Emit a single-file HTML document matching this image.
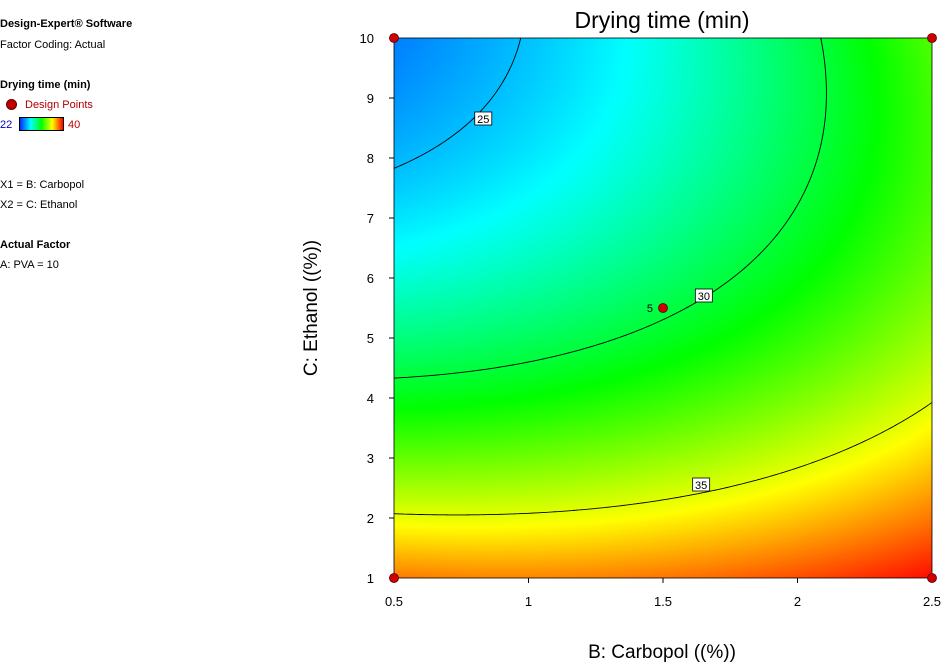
<!DOCTYPE html>
<html><head><meta charset="utf-8">
<style>
body{margin:0;width:942px;height:662px;background:#fff;position:relative;overflow:hidden;font-family:"Liberation Sans","DejaVu Sans",sans-serif;}
.t{position:absolute;font-size:11px;color:#000;white-space:nowrap;}
.b{font-weight:bold;}
</style></head><body>
<div class="t b" style="left:0;top:18px">Design-Expert® Software</div>
<div class="t" style="left:0;top:39px">Factor Coding: Actual</div>
<div class="t b" style="left:0;top:79px">Drying time (min)</div>
<div style="position:absolute;left:6px;top:99px;width:9px;height:9px;border-radius:50%;background:#c00000;border:1px solid #600"></div>
<div class="t" style="left:25px;top:99px;color:#b00000">Design Points</div>
<div class="t" style="left:0;top:119px;color:#0000c0">22</div>
<div style="position:absolute;left:19px;top:117px;width:45px;height:14px;border:1px solid #000;box-sizing:border-box;background:linear-gradient(to right,#0030ff,#00ffff,#00ff00,#ffff00,#ff0000)"></div>
<div class="t" style="left:68px;top:119px;color:#c00000">40</div>
<div class="t" style="left:0;top:179px">X1 = B: Carbopol</div>
<div class="t" style="left:0;top:199px">X2 = C: Ethanol</div>
<div class="t b" style="left:0;top:239px">Actual Factor</div>
<div class="t" style="left:0;top:259px">A: PVA = 10</div>
<canvas id="cv" width="538" height="540" style="position:absolute;left:394px;top:38px"></canvas>
<svg id="sv" width="942" height="662" style="position:absolute;left:0;top:0"></svg>
<script>
const coef=[29.76,2.705,-5.42,1.725,0.905,2.75]; // a0,aB,aC,aBC,aBB,aCC (coded)
const levels=[25,30,35];
const labelB=[0.83,1.65,1.64];
const labelC=[8.65,5.7,2.55];
const xTicks=[0.5,1,1.5,2,2.5];
const yTicks=[1,2,3,4,5,6,7,8,9,10];
const ptsB=[0.5,2.5,0.5,2.5,1.5];
const ptsC=[10,10,1,1,5.5];
const ptsLbl=["","","","","5"];
const zmin=22,zmax=40;
const L=394,R=932,T=38,Bt=578;
const sx=b=>L+(b-0.5)/2*(R-L);
const sy=c=>Bt-(c-1)/9*(Bt-T);
function f(b,c){const x=b-1.5,z=(c-5.5)/4.5;return coef[0]+coef[1]*x+coef[2]*z+coef[3]*x*z+coef[4]*x*x+coef[5]*z*z;}
function col(v){let t=(v-zmin)/(zmax-zmin);t=Math.max(0,Math.min(1,t));const s=t*4,i=Math.min(3,Math.floor(s)),u=s-i;
const st=[[0,60,255],[0,255,255],[0,255,0],[255,255,0],[255,0,0]];const a=st[i],b=st[i+1];return [a[0]+(b[0]-a[0])*u,a[1]+(b[1]-a[1])*u,a[2]+(b[2]-a[2])*u];}
const cv=document.getElementById('cv'),ctx=cv.getContext('2d'),W=538,H=540,img=ctx.createImageData(W,H);
for(let j=0;j<H;j++)for(let i=0;i<W;i++){const b=0.5+(i+0.5)/W*2,c=10-(j+0.5)/H*9;const k=col(f(b,c)),p=(j*W+i)*4;img.data[p]=k[0];img.data[p+1]=k[1];img.data[p+2]=k[2];img.data[p+3]=255;}
ctx.putImageData(img,0,0);
const NS='http://www.w3.org/2000/svg',sv=document.getElementById('sv');
function el(tag,at,txt){const e=document.createElementNS(NS,tag);for(const k in at)e.setAttribute(k,at[k]);if(txt!=null)e.textContent=txt;sv.appendChild(e);return e;}
const N=160;
levels.forEach((lv,li)=>{let d='';
for(let gj=0;gj<N;gj++)for(let gi=0;gi<N;gi++){
const b0=0.5+gi/N*2,b1=0.5+(gi+1)/N*2,c0=1+gj/N*9,c1=1+(gj+1)/N*9;
const cs=[[b0,c0],[b1,c0],[b1,c1],[b0,c1]],vs=cs.map(p=>f(p[0],p[1])-lv);const pts=[];
for(let e=0;e<4;e++){const a=e,bb=(e+1)%4;if((vs[a]<0)!==(vs[bb]<0)){const t=vs[a]/(vs[a]-vs[bb]);pts.push([cs[a][0]+(cs[bb][0]-cs[a][0])*t,cs[a][1]+(cs[bb][1]-cs[a][1])*t]);}}
for(let k=0;k+1<pts.length;k+=2)d+='M'+sx(pts[k][0]).toFixed(2)+' '+sy(pts[k][1]).toFixed(2)+'L'+sx(pts[k+1][0]).toFixed(2)+' '+sy(pts[k+1][1]).toFixed(2);}
const p=el('path',{d:d,stroke:'#000','stroke-width':0.9,fill:'none'});


const g=el('g',{});


const x=sx(labelB[li]),y=sy(labelC[li]);
const r=el('rect',{x:x-8,y:y-7,width:17,height:13,fill:'#fff',stroke:'#000','stroke-width':0.8});g.appendChild(r);
const tx=el('text',{x:x+0.5,y:y+4,'font-size':11,'text-anchor':'middle'},String(lv));g.appendChild(tx);
});
el('rect',{x:L,y:T,width:R-L,height:Bt-T,fill:'none',stroke:'#000','stroke-width':0.8});
xTicks.forEach(v=>{const t=el('line',{x1:sx(v),x2:sx(v),y1:Bt,y2:Bt+5,stroke:'#000'});

const l=el('text',{x:sx(v),y:Bt+28,'font-size':13,'text-anchor':'middle'},String(v));
});
yTicks.forEach(v=>{const t=el('line',{x1:L-5,x2:L,y1:sy(v),y2:sy(v),stroke:'#000'});

const l=el('text',{x:L-20,y:sy(v)+5,'font-size':13,'text-anchor':'end'},String(v));
});
ptsB.forEach((b,i)=>{const c=el('circle',{cx:sx(b),cy:sy(ptsC[i]),r:4.5,fill:'#d00000',stroke:'#500','stroke-width':0.8});

if(ptsLbl[i]){const t=el('text',{x:sx(b)-10,y:sy(ptsC[i])+4,'font-size':11,'text-anchor':'end'},ptsLbl[i]);
}});
const tt=el('text',{x:662,y:28,'font-size':23,'text-anchor':'middle'},'Drying time (min)');

const xt=el('text',{x:662,y:658,'font-size':19,'text-anchor':'middle'},'B: Carbopol  ((%))');

const yt=el('text',{x:0,y:0,'font-size':19,'text-anchor':'middle',transform:'translate(317,308) rotate(-90)'},'C: Ethanol  ((%))');

</script>
</body></html>
